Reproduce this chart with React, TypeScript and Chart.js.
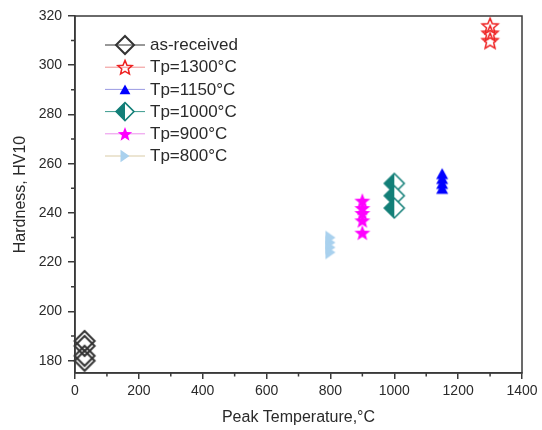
import React, { useEffect, useRef } from 'react';
import { Chart, registerables } from 'chart.js';

Chart.register(...registerables);

// ---- data ----
const X_TICKS = [0, 200, 400, 600, 800, 1000, 1200, 1400];
const X_MINOR = [100, 300, 500, 700, 900, 1100, 1300];
const Y_TICKS = [180, 200, 220, 240, 260, 280, 300, 320];
const Y_MINOR = [190, 210, 230, 250, 270, 290, 310];

const SERIES_LABELS = ['as-received', 'Tp=1300°C', 'Tp=1150°C', 'Tp=1000°C', 'Tp=900°C', 'Tp=800°C'];
const SERIES_TEMPS = [30, 1300, 1150, 1000, 900, 800];
const AS_RECEIVED = [180, 182, 186, 188];
const TP1300 = [310, 313, 316];
const TP1150 = [250, 252, 254, 256];
const TP1000 = [252, 247, 242];
const TP900 = [232, 237, 240, 242, 245];
const TP800 = [224, 226, 228, 230];
const SERIES_VALUES = [AS_RECEIVED, TP1300, TP1150, TP1000, TP900, TP800];

const MARKER_KINDS = ['diamondOpen', 'starOpen', 'triUp', 'diamondHalf', 'starFilled', 'triRight'];
const MARKER_COLORS = ['#333333', '#ee2222', '#0000ff', '#137f78', '#ff00ff', '#a9d1ee'];
const LEGEND_LINE_COLORS = ['#333333', '#f09090', '#9a9ae2', '#3a9a8e', '#ec90ec', '#d9cba6'];

const FONT = "'Liberation Sans', Arial, sans-serif";
const TEXT_COLOR = '#2a2a2a';
const AXIS_COLOR = '#3a3a3a';

function starPath(ctx: CanvasRenderingContext2D, cx: number, cy: number, R: number, r: number) {
  ctx.beginPath();
  for (let i = 0; i < 10; i++) {
    const ang = -Math.PI / 2 + (i * Math.PI) / 5;
    const rad = i % 2 === 0 ? R : r;
    const px = cx + rad * Math.cos(ang);
    const py = cy + rad * Math.sin(ang);
    if (i === 0) ctx.moveTo(px, py);
    else ctx.lineTo(px, py);
  }
  ctx.closePath();
}

function drawMarker(ctx: CanvasRenderingContext2D, kind: string, cx: number, cy: number, s: number, color: string) {
  ctx.save();
  ctx.lineJoin = 'miter';
  if (kind === 'diamondOpen') {
    const r = 10 * s;
    ctx.beginPath();
    ctx.moveTo(cx, cy - r);
    ctx.lineTo(cx + r, cy);
    ctx.lineTo(cx, cy + r);
    ctx.lineTo(cx - r, cy);
    ctx.closePath();
    ctx.strokeStyle = color;
    ctx.lineWidth = 2;
    ctx.stroke();
  } else if (kind === 'diamondHalf') {
    const r = 10 * s;
    ctx.beginPath();
    ctx.moveTo(cx, cy - r);
    ctx.lineTo(cx + r, cy);
    ctx.lineTo(cx, cy + r);
    ctx.closePath();
    ctx.fillStyle = '#ffffff';
    ctx.fill();
    ctx.beginPath();
    ctx.moveTo(cx, cy - r);
    ctx.lineTo(cx, cy + r);
    ctx.lineTo(cx - r, cy);
    ctx.closePath();
    ctx.fillStyle = color;
    ctx.fill();
    ctx.beginPath();
    ctx.moveTo(cx, cy - r);
    ctx.lineTo(cx + r, cy);
    ctx.lineTo(cx, cy + r);
    ctx.lineTo(cx - r, cy);
    ctx.closePath();
    ctx.strokeStyle = color;
    ctx.lineWidth = 1.5;
    ctx.stroke();
  } else if (kind === 'starOpen') {
    const R = 8.4 * s;
    starPath(ctx, cx, cy + 0.8 * s, R, R * 0.45);
    ctx.strokeStyle = color;
    ctx.lineWidth = 1.5;
    ctx.stroke();
  } else if (kind === 'starFilled') {
    const R = 8.4 * s;
    starPath(ctx, cx, cy + 0.8 * s, R, R * 0.42);
    ctx.fillStyle = color;
    ctx.fill();
  } else if (kind === 'triUp') {
    const w = 12 * s, h = 11 * s;
    ctx.beginPath();
    ctx.moveTo(cx, cy - h / 2);
    ctx.lineTo(cx + w / 2, cy + h / 2);
    ctx.lineTo(cx - w / 2, cy + h / 2);
    ctx.closePath();
    ctx.fillStyle = color;
    ctx.fill();
  } else if (kind === 'triRight') {
    const w = 10 * s, h = 14 * s;
    ctx.beginPath();
    ctx.moveTo(cx + w / 2, cy);
    ctx.lineTo(cx - w / 2, cy - h / 2);
    ctx.lineTo(cx - w / 2, cy + h / 2);
    ctx.closePath();
    ctx.fillStyle = color;
    ctx.fill();
  }
  ctx.restore();
}

function makeMarkerCanvas(kind: string, color: string): HTMLCanvasElement {
  const c = document.createElement('canvas');
  c.width = 26;
  c.height = 26;
  const ctx = c.getContext('2d')!;
  drawMarker(ctx, kind, 13, 13, 1, color);
  return c;
}

const decorPlugin = {
  id: 'decor',
  afterDatasetsDraw(chart: any) {
    const { ctx, chartArea: a, scales } = chart;
    const xs = scales.x;
    const ys = scales.y;
    ctx.save();
    ctx.strokeStyle = AXIS_COLOR;
    ctx.lineWidth = 1.5;
    ctx.strokeRect(a.left, a.top, a.right - a.left, a.bottom - a.top);
    ctx.beginPath();
    X_MINOR.forEach((v) => {
      const p = xs.getPixelForValue(v);
      ctx.moveTo(p, a.bottom);
      ctx.lineTo(p, a.bottom + 3.5);
    });
    Y_MINOR.forEach((v) => {
      const p = ys.getPixelForValue(v);
      ctx.moveTo(a.left - 4, p);
      ctx.lineTo(a.left, p);
    });
    ctx.stroke();

    // legend
    const lineX0 = a.left + 30;
    const lineX1 = a.left + 70;
    const markX = a.left + 50;
    const textX = a.left + 75;
    const rowY0 = a.top + 29;
    const rowStep = 22.2;
    ctx.font = `17px ${FONT}`;
    ctx.textBaseline = 'middle';
    ctx.textAlign = 'left';
    SERIES_LABELS.forEach((label, i) => {
      const y = rowY0 + i * rowStep;
      ctx.beginPath();
      ctx.strokeStyle = LEGEND_LINE_COLORS[i];
      ctx.lineWidth = 1;
      ctx.moveTo(lineX0, y);
      ctx.lineTo(lineX1, y);
      ctx.stroke();
      drawMarker(ctx, MARKER_KINDS[i], markX, y, 0.9, MARKER_COLORS[i]);
      ctx.fillStyle = TEXT_COLOR;
      ctx.fillText(label, textX, y + 0.5);
    });
    ctx.restore();
  },
};

export default function App() {
  const canvasRef = useRef<HTMLCanvasElement | null>(null);

  useEffect(() => {
    if (!canvasRef.current) return;
    const images = MARKER_KINDS.map((k, i) => makeMarkerCanvas(k, MARKER_COLORS[i]));
    const datasets = SERIES_LABELS.map((label, i) => ({
      label,
      data: SERIES_VALUES[i].map((v) => ({ x: SERIES_TEMPS[i], y: v })),
      pointStyle: images[i] as any,
      pointRadius: 10,
      showLine: false,
      clip: false as any,
    }));

    const chart = new Chart(canvasRef.current, {
      type: 'scatter',
      data: { datasets },
      options: {
        responsive: false,
        animation: false,
        events: [],
        layout: { padding: { left: 0, right: 20, top: 16, bottom: 0 } },
        plugins: { legend: { display: false }, tooltip: { enabled: false } },
        scales: {
          x: {
            type: 'linear',
            min: 0,
            max: 1400,
            afterBuildTicks: (s: any) => {
              s.ticks = X_TICKS.map((value) => ({ value }));
            },
            afterFit: (s: any) => {
              s.height = 57;
            },
            grid: {
              display: true,
              drawOnChartArea: false,
              drawTicks: true,
              tickLength: 6,
              color: AXIS_COLOR,
              lineWidth: 1.5,
            },
            border: { display: true, color: AXIS_COLOR, width: 1.5 },
            ticks: {
              padding: 4,
              color: TEXT_COLOR,
              font: { family: FONT, size: 14 },
              maxRotation: 0,
              autoSkip: false,
              callback: (v: any) => String(v),
            },
            title: {
              display: true,
              text: 'Peak Temperature,°C',
              color: TEXT_COLOR,
              font: { family: FONT, size: 16 },
              padding: { top: 0, bottom: 3 },
            },
          },
          y: {
            type: 'linear',
            min: 175,
            max: 320,
            afterBuildTicks: (s: any) => {
              s.ticks = Y_TICKS.map((value) => ({ value }));
            },
            afterFit: (s: any) => {
              s.width = 75;
            },
            grid: {
              display: true,
              drawOnChartArea: false,
              drawTicks: true,
              tickLength: 7,
              color: AXIS_COLOR,
              lineWidth: 1.5,
            },
            border: { display: true, color: AXIS_COLOR, width: 1.5 },
            ticks: {
              padding: 6,
              color: TEXT_COLOR,
              font: { family: FONT, size: 14 },
              autoSkip: false,
              callback: (v: any) => String(v),
            },
            title: {
              display: true,
              text: 'Hardness, HV10',
              color: TEXT_COLOR,
              font: { family: FONT, size: 16 },
              padding: { top: 11, bottom: 0 },
            },
          },
        },
      },
      plugins: [decorPlugin],
    });
    return () => chart.destroy();
  }, []);

  return (
    <div style={{ position: 'fixed', left: 0, top: 0, width: 542, height: 430, background: '#ffffff' }}>
      <canvas ref={canvasRef} width={542} height={430} style={{ display: 'block' }} />
    </div>
  );
}
